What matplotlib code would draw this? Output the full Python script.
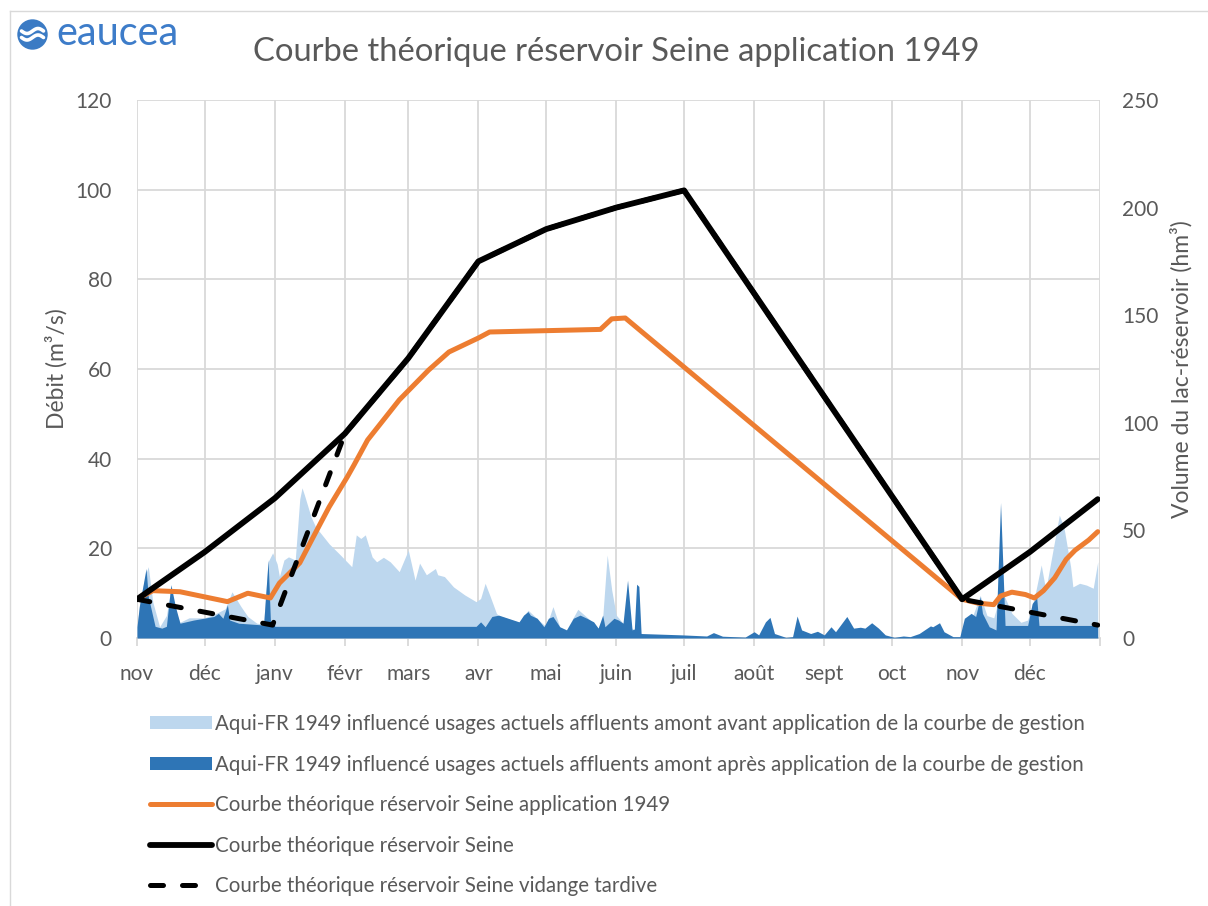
import matplotlib
matplotlib.use("Agg")
import numpy as np
import matplotlib.pyplot as plt
import pandas as pd
from matplotlib.patches import Patch, Circle
from matplotlib.lines import Line2D

plt.rcParams['font.family'] = ['Lato', 'DejaVu Sans']

TEXT = '#595959'
GRID = '#d9d9d9'
LIGHT_BLUE = '#bdd7ee'
DARK_BLUE = '#2e75b6'
ORANGE = '#ed7d31'

month_labels = ["nov", "déc", "janv", "févr", "mars", "avr", "mai", "juin",
                "juil", "août", "sept", "oct", "nov", "déc"]

# Débit (m3/s) avant application de la courbe de gestion
avant_dates = [
    "1948-11-01", "1948-11-03", "1948-11-05", "1948-11-06", "1948-11-08", "1948-11-11",
    "1948-11-14", "1948-11-16", "1948-11-18", "1948-11-20", "1948-11-24", "1948-12-01",
    "1948-12-06", "1948-12-10", "1948-12-13", "1948-12-17", "1948-12-20", "1948-12-24",
    "1948-12-27", "1948-12-29", "1948-12-31", "1949-01-02", "1949-01-03", "1949-01-05",
    "1949-01-07", "1949-01-10", "1949-01-12", "1949-01-13", "1949-01-14", "1949-01-17",
    "1949-01-19", "1949-01-25", "1949-01-30", "1949-02-04", "1949-02-06", "1949-02-08",
    "1949-02-10", "1949-02-13", "1949-02-15", "1949-02-18", "1949-02-21", "1949-02-25",
    "1949-03-01", "1949-03-04", "1949-03-06", "1949-03-09", "1949-03-13", "1949-03-14",
    "1949-03-17", "1949-03-21", "1949-03-26", "1949-03-31", "1949-04-02", "1949-04-04",
    "1949-04-06", "1949-04-09", "1949-04-10", "1949-04-19", "1949-04-23", "1949-04-27",
    "1949-05-01", "1949-05-04", "1949-05-07", "1949-05-10", "1949-05-15", "1949-05-20",
    "1949-05-24", "1949-05-26", "1949-05-28", "1949-05-30", "1949-06-01", "1949-06-04",
    "1949-06-12", "1949-06-14", "1949-10-30", "1949-11-01", "1949-11-05", "1949-11-09",
    "1949-11-12", "1949-11-15", "1949-11-18", "1949-11-20", "1949-11-23", "1949-11-27",
    "1949-11-30", "1949-12-03", "1949-12-06", "1949-12-08", "1949-12-14", "1949-12-16",
    "1949-12-19", "1949-12-20", "1949-12-23", "1949-12-26", "1949-12-29", "1949-12-31",
]
avant_values = [
    3.0, 10.0, 14.5, 15.9, 8.0, 2.5,
    5.0, 11.0, 6.0, 3.5, 4.5, 4.5,
    5.5, 6.5, 10.3, 7.0, 4.8, 3.3,
    3.1, 17.0, 19.0, 16.5, 13.7, 17.4,
    18.1, 17.4, 31.0, 33.5, 32.0, 27.0,
    24.8, 21.0, 18.5, 15.9, 23.0, 22.2,
    23.0, 18.1, 17.0, 18.0, 17.0, 14.8,
    19.6, 12.9, 16.7, 14.1, 15.5, 14.1,
    13.7, 11.4, 9.6, 8.1, 8.8, 12.2,
    9.6, 5.5, 5.0, 3.5, 6.2, 4.3,
    2.5, 7.0, 2.5, 1.8, 6.4, 4.2,
    2.2, 4.5, 18.5, 10.7, 5.1, 3.3,
    1.0, 0.0, 0.0, 0.3, 4.0, 9.5,
    5.0, 4.5, 10.0, 9.0, 5.5, 3.5,
    4.0, 9.0, 16.3, 10.7, 27.4, 24.8,
    15.9, 11.4, 12.2, 11.8, 11.1, 17.0,
]

# Débit (m3/s) après application de la courbe de gestion
apres_dates = [
    "1948-11-01", "1948-11-02", "1948-11-05", "1948-11-06", "1948-11-09", "1948-11-12",
    "1948-11-14", "1948-11-16", "1948-11-18", "1948-11-20", "1948-11-26", "1948-12-05",
    "1948-12-07", "1948-12-09", "1948-12-11", "1948-12-12", "1948-12-16", "1948-12-27",
    "1948-12-29", "1948-12-30", "1949-01-01", "1949-03-31", "1949-04-02", "1949-04-04",
    "1949-04-07", "1949-04-10", "1949-04-19", "1949-04-21", "1949-04-23", "1949-04-24",
    "1949-04-27", "1949-04-30", "1949-05-02", "1949-05-04", "1949-05-07", "1949-05-10",
    "1949-05-13", "1949-05-16", "1949-05-19", "1949-05-22", "1949-05-24", "1949-05-26",
    "1949-05-27", "1949-05-31", "1949-06-02", "1949-06-04", "1949-06-06", "1949-06-08",
    "1949-06-09", "1949-06-10", "1949-06-11", "1949-06-12", "1949-06-30", "1949-07-11",
    "1949-07-14", "1949-07-18", "1949-07-28", "1949-08-01", "1949-08-03", "1949-08-06",
    "1949-08-08", "1949-08-10", "1949-08-15", "1949-08-18", "1949-08-20", "1949-08-22",
    "1949-08-26", "1949-08-29", "1949-09-01", "1949-09-04", "1949-09-06", "1949-09-11",
    "1949-09-14", "1949-09-17", "1949-09-19", "1949-09-22", "1949-09-25", "1949-09-28",
    "1949-10-02", "1949-10-06", "1949-10-09", "1949-10-13", "1949-10-18", "1949-10-19",
    "1949-10-22", "1949-10-24", "1949-10-28", "1949-10-31", "1949-11-02", "1949-11-05",
    "1949-11-07", "1949-11-09", "1949-11-10", "1949-11-13", "1949-11-16", "1949-11-18",
    "1949-11-20", "1949-11-30", "1949-12-02", "1949-12-04", "1949-12-05", "1949-12-31",
]
apres_values = [
    2.5, 7.0, 15.5, 9.2, 2.6, 2.2,
    2.6, 11.9, 7.0, 3.3, 4.0, 4.8,
    5.5, 4.4, 7.4, 4.0, 3.3, 2.9,
    17.4, 4.0, 2.6, 2.6, 3.6, 2.5,
    4.8, 5.1, 3.6, 5.1, 5.9, 5.1,
    4.4, 2.5, 4.4, 4.8, 2.5, 1.8,
    4.4, 5.1, 4.4, 3.6, 2.2, 5.1,
    2.5, 4.4, 4.0, 3.3, 12.9, 1.8,
    2.0, 12.0, 11.5, 1.0, 0.7, 0.45,
    1.2, 0.4, 0.2, 1.4, 0.7, 3.6,
    4.6, 1.0, 0.15, 0.3, 4.9, 1.8,
    1.0, 1.5, 0.7, 2.5, 1.4, 4.8,
    2.2, 2.4, 2.2, 3.4, 2.2, 0.7,
    0.15, 0.45, 0.3, 1.0, 2.7, 2.5,
    3.4, 1.4, 0.3, 0.3, 4.4, 5.5,
    4.8, 9.2, 5.5, 2.5, 1.8, 30.2,
    2.8, 2.8, 7.7, 9.0, 2.8, 2.8,
]

# Volume du lac-réservoir (hm3) : courbe théorique
seine_dates = ["1948-11-01", "1948-12-01", "1949-01-01", "1949-02-01", "1949-03-01",
               "1949-04-01", "1949-05-01", "1949-06-01", "1949-07-01", "1949-11-01",
               "1949-12-01", "1949-12-31"]
seine_values = [18, 40, 65, 95, 130, 175, 190, 200, 208, 18, 40, 64.5]

# Courbe théorique, vidange tardive
tardive_dates = ["1948-11-01", "1948-12-31", "1949-02-01", "1949-03-01", "1949-04-01",
                 "1949-05-01", "1949-06-01", "1949-07-01", "1949-11-01", "1949-12-31"]
tardive_values = [18, 6, 95, 130, 175, 190, 200, 208, 18, 6]

# Courbe théorique, application 1949
app_dates = ["1948-11-01", "1948-11-08", "1948-11-20", "1948-12-11", "1948-12-20",
             "1948-12-30", "1949-01-03", "1949-01-12", "1949-01-18", "1949-01-25",
             "1949-02-02", "1949-02-05", "1949-02-11", "1949-02-25", "1949-03-10",
             "1949-03-19", "1949-04-01", "1949-04-06", "1949-05-25", "1949-05-30",
             "1949-06-05", "1949-11-01", "1949-11-08", "1949-11-15", "1949-11-18",
             "1949-11-23", "1949-11-29", "1949-12-03", "1949-12-07", "1949-12-12",
             "1949-12-17", "1949-12-21", "1949-12-27", "1949-12-31"]
app_values = [18.0, 22.0, 21.5, 16.9, 20.8,
              18.6, 25.5, 34.9, 47.0, 60.9,
              74.8, 80.4, 92.0, 110.6, 124.5,
              132.9, 139.4, 142.2, 143.4, 148.3,
              148.7, 18.0, 16.2, 15.5, 19.5,
              21.3, 20.2, 18.6, 22.0, 28.0,
              36.5, 40.8, 45.5, 49.4]

legend_labels = [
    "Aqui-FR 1949 influencé usages actuels affluents amont avant application de la courbe de gestion",
    "Aqui-FR 1949 influencé usages actuels affluents amont après application de la courbe de gestion",
    "Courbe théorique réservoir Seine application 1949",
    "Courbe théorique réservoir Seine",
    "Courbe théorique réservoir Seine vidange tardive",
]

W, H = 1208, 906
fig = plt.figure(figsize=(W / 100, H / 100), dpi=100)
ax = fig.add_axes([137 / W, 1 - 638 / H, (1100 - 137) / W, (638 - 100) / H])
ax2 = ax.twinx()

# Débits (axe de gauche)
ax.fill_between(pd.to_datetime(avant_dates), avant_values, color=LIGHT_BLUE, lw=0, zorder=2)
ax.fill_between(pd.to_datetime(apres_dates), apres_values, color=DARK_BLUE, lw=0, zorder=3)

# Volumes (axe de droite)
ax2.plot(pd.to_datetime(app_dates), app_values, color=ORANGE, lw=3.6,
         solid_joinstyle='round', solid_capstyle='round', zorder=3)
ax2.plot(pd.to_datetime(seine_dates), seine_values, color='black', lw=4.2,
         solid_joinstyle='round', solid_capstyle='round', zorder=4)
ax2.plot(pd.to_datetime(tardive_dates), tardive_values, color='black', lw=3.6,
         ls=(0, (2.6, 3.8)), dash_capstyle='round', zorder=5)

x0, x1 = pd.Timestamp("1948-11-01"), pd.Timestamp("1950-01-01")
ax.set_xlim(x0, x1)
ax.set_ylim(0, 120)
ax2.set_ylim(0, 250)

month_starts = list(pd.date_range("1948-11-01", "1949-12-01", freq="MS")) + [x1]
ax.set_xticks(month_starts)
ax.set_xticklabels(month_labels + [""])
ax.set_yticks(range(0, 121, 20))
ax2.set_yticks(range(0, 251, 50))

ax.grid(True, color=GRID, lw=1.3, zorder=0)
ax.set_axisbelow(True)
for a in (ax, ax2):
    for s in a.spines.values():
        s.set_visible(False)
ax.spines['bottom'].set_visible(True)
ax.spines['bottom'].set_color(GRID)
ax.spines['bottom'].set_linewidth(1.3)

ax.tick_params(axis='x', length=6, width=1.3, color=GRID, direction='out',
               labelsize=15, labelcolor=TEXT, pad=13)
ax.tick_params(axis='y', length=0, labelsize=15, labelcolor=TEXT, pad=18)
ax2.tick_params(axis='y', length=0, labelsize=15, labelcolor=TEXT, pad=16)

ax.set_ylabel("Débit (m³/s)", fontsize=16.5, color=TEXT, labelpad=6)
ax2.set_ylabel("Volume du lac-réservoir (hm³)", fontsize=16.5, color=TEXT, labelpad=8)

fig.text(616 / W, 1 - 52 / H, "Courbe théorique réservoir Seine application 1949",
         ha='center', va='center', fontsize=23.6, color=TEXT)

# Logo eaucea
cx, cy = 0.325, (H - 34.5) / 100
fig.add_artist(Circle((cx, cy), 0.152, transform=fig.dpi_scale_trans,
                      facecolor='#3b7bc4', edgecolor='none'))
t = np.linspace(-1, 1, 40)
for dy in (0.035, -0.03):
    fig.add_artist(Line2D(cx + 0.11 * t, cy + dy + 0.025 * np.sin(np.pi * t),
                          transform=fig.dpi_scale_trans, color='white', lw=2.6,
                          solid_capstyle='round'))
fig.text(56 / W, 1 - 45 / H, "eaucea", fontsize=28.5, color='#3d7cc9', va='baseline')

# Cadre
fig.add_artist(Line2D([9.5 / W, 1], [1 - 10.5 / H, 1 - 10.5 / H], color=GRID, lw=1,
                      transform=fig.transFigure))
fig.add_artist(Line2D([9.5 / W, 9.5 / W], [0, 1 - 10.5 / H], color=GRID, lw=1,
                      transform=fig.transFigure))

handles = [
    Patch(facecolor=LIGHT_BLUE, edgecolor='none'),
    Patch(facecolor=DARK_BLUE, edgecolor='none'),
    Line2D([], [], color=ORANGE, lw=3.6, solid_capstyle='round'),
    Line2D([], [], color='black', lw=4.2, solid_capstyle='round'),
    Line2D([], [], color='black', lw=3.6, ls=(0, (2.6, 3.8)), dash_capstyle='round'),
]
fig.legend(handles, legend_labels, loc='upper left', bbox_to_anchor=(150 / W, 1 - 714 / H),
           frameon=False, fontsize=14.8, labelcolor=TEXT, handlelength=3.0,
           handleheight=0.6, handletextpad=0.15, labelspacing=1.0, borderpad=0,
           borderaxespad=0)

fig.savefig("out.png", dpi=100, facecolor='white')
